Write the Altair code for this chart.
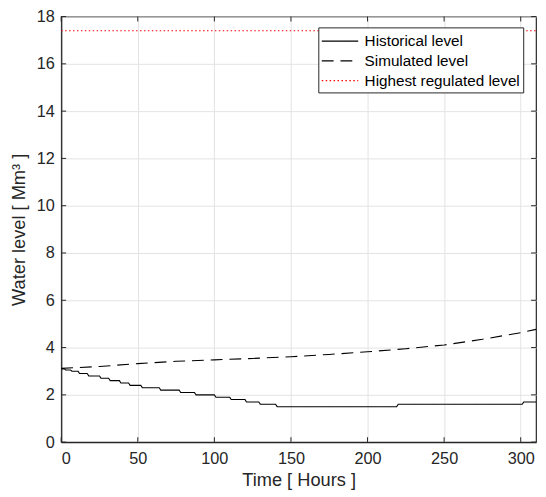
import altair as alt
import pandas as pd

# Historical level (step-like series)
hist_t = [0, 2, 3, 6, 7, 11, 12, 17, 18, 25, 26, 31, 32, 38, 39, 44, 45, 52, 53, 64,
          65, 77, 78, 87, 88, 100, 101, 110, 111, 120, 121, 129, 130, 140, 141, 219,
          220, 301, 302, 310]
hist_v = [3.1, 3.1, 3.05, 3.05, 3.0, 3.0, 2.9, 2.9, 2.8, 2.8, 2.7, 2.7, 2.6, 2.6,
          2.5, 2.5, 2.4, 2.4, 2.3, 2.3, 2.2, 2.2, 2.1, 2.1, 2.0, 2.0, 1.9, 1.9, 1.8,
          1.8, 1.7, 1.7, 1.6, 1.6, 1.5, 1.5, 1.6, 1.6, 1.7, 1.7]

# Simulated level
sim_t = [0, 25, 50, 75, 100, 125, 150, 175, 200, 225, 250, 275, 300, 310]
sim_v = [3.12, 3.2, 3.32, 3.42, 3.48, 3.54, 3.61, 3.71, 3.82, 3.95, 4.11, 4.35, 4.63, 4.77]

# Highest regulated level
max_t = [0, 310]
max_v = [17.4, 17.4]

series_names = ["Historical level", "Simulated level", "Highest regulated level"]

x_ticks = [0, 50, 100, 150, 200, 250, 300]
y_ticks = [0, 2, 4, 6, 8, 10, 12, 14, 16, 18]

W, H = 482, 432
FONT = "Liberation Sans"
AX = "#262626"

df = pd.concat([
    pd.DataFrame({"t": hist_t, "v": hist_v, "s": series_names[0]}),
    pd.DataFrame({"t": sim_t, "v": sim_v, "s": series_names[1]}),
    pd.DataFrame({"t": max_t, "v": max_v, "s": series_names[2]}),
], ignore_index=True)

xs = alt.Scale(domain=[0, 310], nice=False, zero=False)
ys = alt.Scale(domain=[0, 18], nice=False)

color = alt.Color("s:N", scale=alt.Scale(domain=series_names,
                                         range=["#000000", "#000000", "#ff0000"]),
                  legend=alt.Legend(title=None,
                                    orient="none", legendX=261, legendY=11,
                                    fillColor="white", strokeColor=AX, padding=3,
                                    symbolType="M-1.85,0L1.85,0", symbolSize=400,
                                    symbolStrokeWidth=1.2, symbolOffset=8,
                                    labelFont=FONT, labelFontSize=15.5,
                                    labelColor="#000000", rowPadding=-1,
                                    labelOffset=14, cornerRadius=0, labelLimit=300,
                                    labelExpr="datum.label + '\u00a0\u00a0'"))
dash = alt.StrokeDash("s:N", scale=alt.Scale(domain=series_names,
                                             range=[[1, 0], [12, 7], [1.5, 2.5]]),
                      legend=None)

lines = alt.Chart(df).mark_line(strokeWidth=1.1, clip=True).encode(
    x=alt.X("t:Q", scale=xs, title="Time  [ Hours ]",
            axis=alt.Axis(values=x_ticks, grid=True, tickSize=0, labelPadding=9,
                          titlePadding=4)),
    y=alt.Y("v:Q", scale=ys, title="Water level  [ Mm³ ]",
            axis=alt.Axis(values=y_ticks, grid=True, tickSize=0, labelPadding=7,
                          titlePadding=8)),
    color=color,
    strokeDash=dash,
    order="t:Q",
)

xt = pd.DataFrame({"t": x_ticks})
yt = pd.DataFrame({"v": y_ticks})
tick_b = alt.Chart(xt).mark_rule(color=AX, strokeWidth=1).encode(
    x=alt.X("t:Q", scale=xs), y=alt.value(H), y2=alt.value(H - 5))
tick_t = alt.Chart(xt).mark_rule(color=AX, strokeWidth=1).encode(
    x=alt.X("t:Q", scale=xs), y=alt.value(0), y2=alt.value(5))
tick_l = alt.Chart(yt).mark_rule(color=AX, strokeWidth=1).encode(
    y=alt.Y("v:Q", scale=ys), x=alt.value(0), x2=alt.value(5))
tick_r = alt.Chart(yt).mark_rule(color=AX, strokeWidth=1).encode(
    y=alt.Y("v:Q", scale=ys), x=alt.value(W), x2=alt.value(W - 5))

chart = alt.layer(lines, tick_b, tick_t, tick_l, tick_r).properties(
    width=W, height=H,
    autosize=alt.AutoSizeParams(type="none"),
    padding={"left": 54, "top": 5, "right": 2, "bottom": 52},
).configure_axis(
    gridColor="#e3e3e3", gridWidth=1, domainColor=AX, domainWidth=1.2,
    labelFont=FONT, labelFontSize=16.5, labelColor=AX,
    titleFont=FONT, titleFontSize=18.5, titleColor=AX, titleFontWeight="normal",
).configure_view(stroke=AX, strokeWidth=1.2)

chart.save("out.html", embed_options={"renderer": "svg", "actions": False})
